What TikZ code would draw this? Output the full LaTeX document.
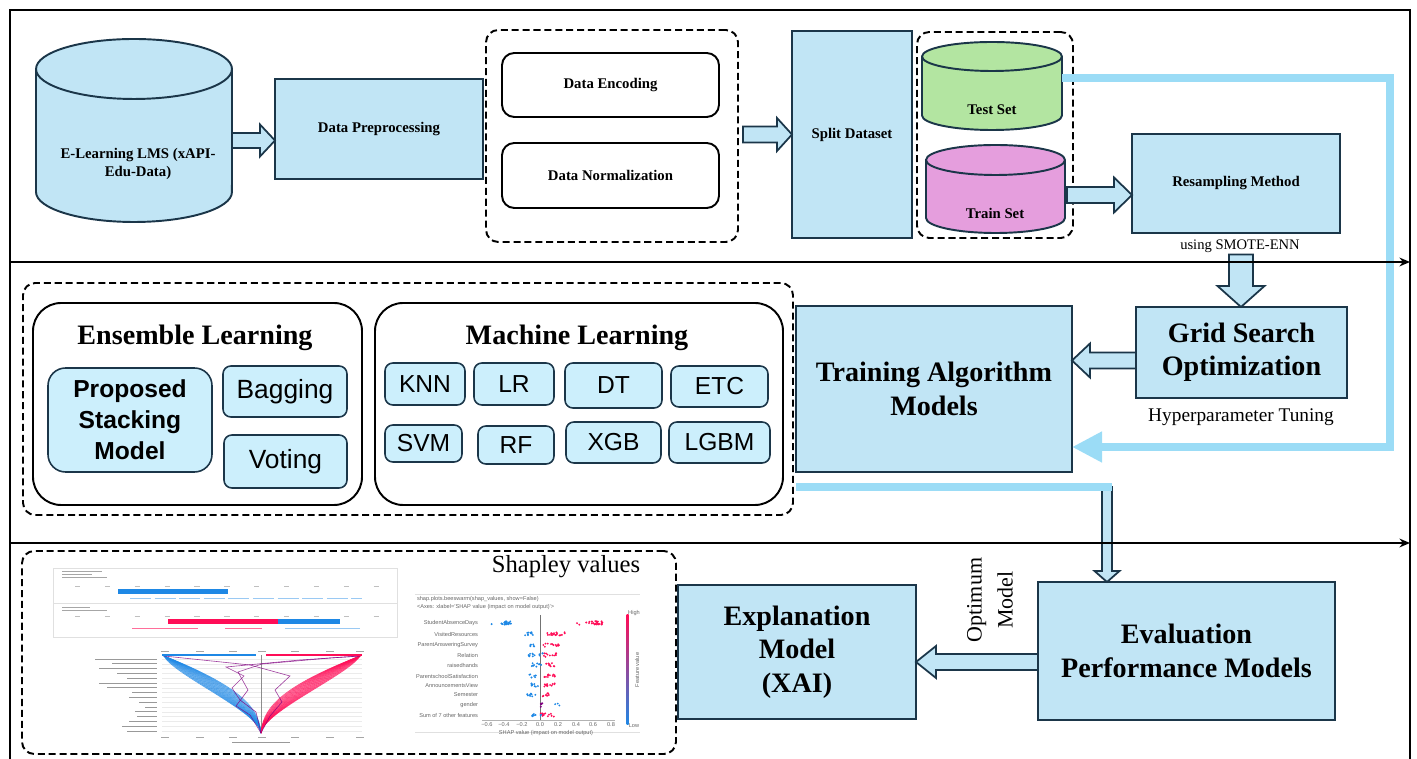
\documentclass[tikz,border=0pt]{standalone}
\usepackage{fontspec}
\setmainfont{Liberation Serif}
\setsansfont{Liberation Sans}
\usetikzlibrary{calc,positioning,arrows.meta}

\definecolor{boxFill}{HTML}{C1E5F5}
\definecolor{boxLine}{HTML}{1B3649}
\definecolor{algFill}{HTML}{CCEFFC}
\definecolor{testFill}{HTML}{B3E5A1}
\definecolor{trainFill}{HTML}{E59EDD}
\definecolor{flowBlue}{HTML}{9BDCF6}
\definecolor{shapBlue}{HTML}{1E88E5}
\definecolor{shapRed}{HTML}{FF0D57}

\tikzset{
  base/.style={inner sep=0pt, outer sep=0pt},
  % node spanning two corners x1:y1:x2:y2 (picture units)
  span/.style args={#1:#2:#3:#4}{minimum width={(#3-#1)*0.02cm}, minimum height={(#4-#2)*0.02cm},
    at={({(#1+#3)/2},{(#2+#4)/2})}},
  stepbox/.style={base, draw=boxLine, fill=boxFill, line width=1.1pt, align=center,
    font=\bfseries\fontsize{8.4}{10}\selectfont},
  bigbox/.style={stepbox, font=\bfseries\fontsize{16}{19}\selectfont},
  softbox/.style={base, draw=black, fill=white, line width=1.1pt, rounded corners=7pt,
    align=center, font=\bfseries\fontsize{8.4}{10}\selectfont},
  grpbox/.style={base, draw=black, line width=1.1pt, dash pattern=on 4pt off 2.2pt, rounded corners=7pt},
  panel/.style={base, draw=black, line width=1.1pt, rounded corners=16pt},
  paneltitle/.style={base, font=\bfseries\fontsize{16}{19}\selectfont},
  algbox/.style={base, draw=boxLine, fill=algFill, line width=0.9pt, rounded corners=4.5pt,
    align=center, font=\sffamily\fontsize{14}{17}\selectfont},
  toplbl/.style={base, align=center, font=\bfseries\fontsize{8.4}{10}\selectfont},
  note/.style={base, font=\fontsize{8.3}{10}\selectfont},
  cylbody/.style={draw=boxLine, line width=1.1pt},
  fatarrow/.style={draw=boxLine, fill=boxFill, line width=1pt, line join=miter},
  flow/.style={draw=flowBlue, line width=4.5pt, line join=miter},
  divider/.style={line width=1.4pt, -{Stealth[length=6pt,width=5pt]}},
  shaptxt/.style={base, text=black!60, font=\sffamily\fontsize{3.2}{3.6}\selectfont},
  dline/.style={line width=0.35pt, opacity=0.75},
}

% cylinder round a node: node, x radius, y radius, fill
\newcommand{\dbcyl}[4]{%
  \draw[cylbody, fill=#4] ($(#1.north west)+(0,-#3)$) -- ($(#1.south west)+(0,#3)$)
    arc[start angle=180, end angle=360, x radius=#2, y radius=#3]
    -- ($(#1.north east)+(0,-#3)$)
    arc[start angle=0, end angle=180, x radius=#2, y radius=#3] -- cycle;
  \draw[cylbody] ($(#1.north west)+(0,-#3)$) arc[start angle=180, end angle=360, x radius=#2, y radius=#3];}

% hollow block arrow: from, to, shaft half width, head half width, head length
\newcommand{\fatarrow}[5]{%
  \coordinate (fah) at ($(#2)!#5!(#1)$);
  \draw[fatarrow] ($(#1)!#3!90:(#2)$) -- ($(fah)!#3!90:(#2)$) -- ($(fah)!#4!90:(#2)$) -- (#2)
    -- ($(fah)!#4!-90:(#2)$) -- ($(fah)!#3!-90:(#2)$) -- ($(#1)!#3!-90:(#2)$) -- cycle;}

% one row of beeswarm dots: y, centre, spread, colour, count
\newcommand{\swarm}[5]{%
  \foreach \k in {1,...,#5} \fill[#4] ({#2+#3*rand},{#1+1.8*rand}) circle (0.6pt);}

\begin{document}
\begin{tikzpicture}[x=0.02cm, y=-0.02cm]
  \useasboundingbox (0,0) rectangle (1417,759);
  \pgfmathsetseed{11}

  % ------- top row: data -------
  \node[base, span=36:39:232:222] (lms) {};
  \dbcyl{lms}{1.96cm}{0.6cm}{boxFill}
  \node[toplbl] (lmslbl) at (138,164) {E-Learning LMS (xAPI-\\Edu-Data)};
  \node[stepbox, span=275:79:483:179] (pre) {Data Preprocessing};
  \node[grpbox, span=486:30:738:242] (prepgrp) {};
  \node[softbox, span=502:53:719:117] (enc) {Data Encoding};
  \node[softbox, span=502:143:719:208] (norm) {Data Normalization};
  \node[stepbox, span=792:31:912:238] (split) {Split Dataset};
  \node[grpbox, span=917:32:1073:238] (splitgrp) {};
  \node[base, span=922:42:1062:130] (test) {};
  \dbcyl{test}{1.4cm}{0.29cm}{testFill}
  \node[toplbl] (testlbl) at (992,110) {Test Set};
  \node[base, span=926:145:1065:233] (train) {};
  \dbcyl{train}{1.39cm}{0.3cm}{trainFill}
  \node[toplbl] (trainlbl) at (995,213) {Train Set};
  \node[stepbox, span=1132:134:1340:233] (resample) {Resampling Method};
  \node[note] (smote) at (1240,246) {using SMOTE-ENN};

  % ------- middle row: models -------
  \node[grpbox, span=23:283:793:515] (mlgrp) {};
  \node[panel, span=33:303:362:505] (ens) {};
  \node[paneltitle] (enstitle) at (195,338) {Ensemble Learning};
  \node[panel, span=375:303:783:505] (mlpanel) {};
  \node[paneltitle] (mltitle) at (577,338) {Machine Learning};
  \node[algbox, rounded corners=10pt, font=\sffamily\bfseries\fontsize{14}{17.6}\selectfont,
    span=48:368:212:472] (stack) {Proposed\\Stacking\\Model};
  \node[algbox, font=\sffamily\fontsize{15}{18}\selectfont, span=223:366:347:417] (bag) {Bagging};
  \node[algbox, font=\sffamily\fontsize{15}{18}\selectfont, span=224:435:347:488] (vote) {Voting};
  \foreach \nm/\lbl/\xa/\ya/\xb/\yb in {knn/KNN/385/363/465/405, lr/LR/474/363/554/405,
      dt/DT/565/363/662/408, etc/ETC/671/366/768/407, svm/SVM/385/425/462/462,
      rf/RF/478/426/554/464, xgb/XGB/566/422/661/463, lgbm/LGBM/669/422/770/463}
    \node[algbox, span=\xa:\ya:\xb:\yb] (\nm) {\lbl};
  \node[bigbox, span=796:306:1072:472] (trn) {Training Algorithm\\Models};
  \node[bigbox, span=1136:307:1347:398] (grid) {Grid Search\\Optimization};
  \node[note, font=\fontsize{11}{13}\selectfont] (hyper) at (1241,417) {Hyperparameter Tuning};

  % ------- bottom row: explanation -------
  \node[grpbox, span=22:551:676:754] (shapgrp) {};
  \node[base, font=\fontsize{14}{16}\selectfont] (shaplbl) at (566,567) {Shapley values};
  \node[bigbox, span=678:585:916:719] (expl) {Explanation\\Model\\(XAI)};
  \node[bigbox, span=1038:582:1335:720] (eval) {Evaluation\\Performance Models};
  \node[base, rotate=90, align=center, font=\fontsize{12.5}{17.6}\selectfont] (optlbl) at (990,600) {Optimum\\Model};

  % force plots
  \draw[black!12, line width=0.4pt] (53,568) rectangle (397,637) (53,603) -- (397,603);
  \foreach \yy/\len in {571/40, 574/30, 577/45, 607/28, 610/45}
    \draw[black!35, line width=0.5pt] (62,\yy) -- ++(\len,0);
  \draw[black!25, line width=0.5pt, dash pattern=on 3pt off 14pt] (75,586) -- (395,586) (75,616) -- (395,616);
  \fill[shapBlue] (118,589) rectangle (228,594);
  \draw[shapBlue!45, line width=0.5pt, dash pattern=on 12pt off 2pt] (130,598) -- (362,598);
  \fill[shapRed] (168,619) rectangle (278,624);
  \fill[shapBlue] (278,619) rectangle (340,624);
  \draw[shapRed!60, line width=0.5pt] (132,628) -- (198,628) (225,628) -- (262,628);
  \draw[shapBlue!45, line width=0.5pt] (285,628) -- (360,628);
  % decision plot
  \foreach \r in {0,...,15}
    \draw[black!8, line width=0.3pt] (162,{659+\r*4.8}) -- (362,{659+\r*4.8});
  \foreach \r/\len in {0/62,1/45,2/58,3/40,4/30,5/58,6/50,7/25,8/28,9/18,10/12,11/22,12/20,13/28,14/35,15/30}
    \draw[black!40, line width=0.5pt] ({157-\len},{659+\r*4.8}) -- (157,{659+\r*4.8});
  \draw[black!45, line width=0.4pt] (261,655) -- (261,733);
  \foreach \d in {12,16,...,88}
    \draw[dline, shapBlue] (261,733) .. controls (259,712) and ({261-\d},{692-\d*0.2}) .. (164,656);
  \foreach \d in {12,16,...,88}
    \draw[dline, shapRed] (261,733) .. controls (263,712) and ({261+\d},{692-\d*0.2}) .. (360,656);
  \draw[dline, violet] (261,733) -- (256,712) -- (240,700) -- (232,688) -- (244,676) -- (226,667) -- (300,660) -- (360,656);
  \draw[dline, violet] (261,733) -- (250,715) -- (236,706) -- (248,690) -- (238,672) -- (262,664) -- (330,658) -- (360,656);
  \draw[dline, violet] (261,733) -- (270,716) -- (282,702) -- (275,690) -- (290,676) -- (250,665) -- (164,656);
  \draw[shapBlue, line width=1pt] (162,655) -- (256,655);
  \draw[shapRed, line width=1pt] (266,655) -- (362,655);
  \foreach \xx in {165,200,233,262,295,330,360}
    \draw[black!35, line width=0.5pt] ({\xx-4},651) -- ({\xx+4},651) ({\xx-4},737) -- ({\xx+4},737);
  \draw[black!40, line width=0.5pt] (232,742) -- (290,742);
  % beeswarm plot
  \draw[black!12, line width=0.4pt] (415,594) -- (640,594) (415,732) -- (640,732);
  \node[shaptxt, anchor=west] (bcode) at (417,599) {shap.plots.beeswarm(shap\_values, show=False)};
  \node[shaptxt, anchor=west] (baxes) at (417,607) {<Axes: xlabel='SHAP value (impact on model output)'>};
  \foreach \yy/\ft [count=\i] in {623/StudentAbsenceDays, 634/VisitedResources, 645/ParentAnsweringSurvey,
      655/Relation, 665/raisedhands, 676/ParentschoolSatisfaction, 685/AnnouncementsView,
      695/Semester, 705/gender, 715/Sum of 7 other features}
    \node[shaptxt, anchor=east] (feat\i) at (478,\yy) {\ft};
  \draw[black!55, line width=0.3pt] (540,615) -- (540,720);
  \swarm{623}{504}{7}{shapBlue}{24}  \swarm{623}{596}{7}{shapRed}{24}
  \swarm{623}{582}{5}{shapRed}{3}    \swarm{623}{491}{1}{shapBlue}{1}
  \swarm{634}{529}{4}{shapBlue}{10}  \swarm{634}{556}{9}{shapRed}{18}
  \swarm{645}{533}{3}{shapBlue}{6}   \swarm{645}{551}{8}{shapRed}{14}
  \swarm{655}{536}{8}{shapBlue}{12}  \swarm{655}{551}{8}{shapRed}{12}
  \swarm{665}{536}{6}{shapBlue}{10}  \swarm{665}{550}{5}{shapRed}{10}
  \swarm{676}{532}{4}{shapBlue}{6}   \swarm{676}{549}{6}{shapRed}{12}
  \swarm{685}{535}{5}{shapBlue}{10}  \swarm{685}{550}{6}{shapRed}{12}
  \swarm{695}{533}{6}{shapBlue}{8}   \swarm{695}{545}{5}{shapRed}{8}
  \swarm{705}{541}{2}{violet}{6}     \swarm{705}{556}{5}{shapBlue}{3}
  \swarm{715}{537}{6}{shapBlue}{10}  \swarm{715}{547}{7}{shapRed}{12}
  \draw[black!30, line width=0.3pt] (482,720) -- (615,720);
  \foreach \v/\xx [count=\i] in {−0.6/487, −0.4/504, −0.2/522, 0.0/540, 0.2/558, 0.4/576, 0.6/593, 0.8/611}
    \node[shaptxt] (tick\i) at (\xx,725) {\v};
  \node[shaptxt] (xlab) at (546,733) {SHAP value (impact on model output)};
  \shade[top color=shapRed, bottom color=shapBlue] (626.5,615) rectangle (628.5,725);
  \node[shaptxt] (hi) at (634,613) {High};
  \node[shaptxt] (lo) at (634,726) {Low};
  \node[shaptxt, rotate=90] (fv) at (637,670) {Feature value};

  % ------- block arrows -------
  \path (lms.east) ++(0,10) coordinate (a1s);
  \coordinate (a1e) at (pre.west |- a1s);
  \fatarrow{a1s}{a1e}{0.15cm}{0.32cm}{0.3cm}
  \path (prepgrp.east |- split.center) ++(5,0) coordinate (a2s);
  \coordinate (a2e) at (split.west |- a2s);
  \fatarrow{a2s}{a2e}{0.16cm}{0.33cm}{0.3cm}
  \path (train.east) ++(2,6) coordinate (a3s);
  \coordinate (a3e) at (resample.west |- a3s);
  \fatarrow{a3s}{a3e}{0.16cm}{0.35cm}{0.36cm}
  \path (smote.south) ++(1,2) coordinate (a4s);
  \coordinate (a4e) at (a4s |- grid.north);
  \fatarrow{a4s}{a4e}{0.24cm}{0.47cm}{0.42cm}
  \path (grid.west) ++(0,8) coordinate (a5s);
  \coordinate (a5e) at (trn.east |- a5s);
  \fatarrow{a5s}{a5e}{0.16cm}{0.34cm}{0.36cm}
  \path (eval.west) ++(0,11) coordinate (a6s);
  \coordinate (a6e) at (expl.east |- a6s);
  \fatarrow{a6s}{a6e}{0.16cm}{0.32cm}{0.4cm}
  \coordinate (drop) at (1107,487);
  \coordinate (a7e) at (drop |- eval.north);
  \fatarrow{drop}{a7e}{0.1cm}{0.25cm}{0.22cm}

  % ------- light blue flows -------
  \coordinate (flowTop) at (1390,78);
  \coordinate (flowBend) at (1390,447);
  \draw[flow, -{Triangle[length=0.6cm,width=0.58cm]}] (test.east |- flowTop) -- (flowTop) -- (flowBend) -- (trn.east |- flowBend);
  \draw[flow] (trn.south west |- drop) -- ($(drop)+(5,0)$);

  % ------- frame and row dividers -------
  \draw[line width=1.4pt] (10,765) -- (10,10) -- (1410,10) -- (1410,765);
  \draw[divider] (10,262) -- (1410,262);
  \draw[divider] (10,543) -- (1410,543);
\end{tikzpicture}
\end{document}
